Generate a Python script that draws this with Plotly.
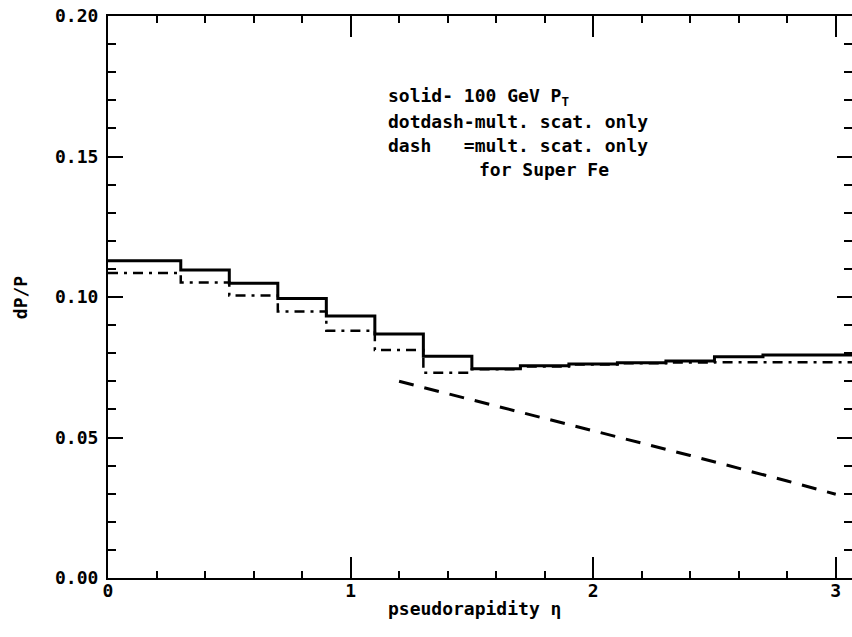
import plotly.graph_objects as go

# Step edges (pseudorapidity) and levels
solid_edges = [0.0, 0.3, 0.5, 0.7, 0.9, 1.1, 1.3, 1.5, 1.7, 1.9, 2.1, 2.3, 2.5, 2.7, 3.1]
solid_vals = [0.1129, 0.1096, 0.1049, 0.0995, 0.0932, 0.0868, 0.0789, 0.0745,
              0.0755, 0.0762, 0.0766, 0.0772, 0.0787, 0.0794, 0.0794]

dotdash_edges = [0.0, 0.3, 0.5, 0.7, 0.9, 1.1, 1.3, 1.5, 1.7, 1.9, 2.1, 2.3, 2.5, 3.1]
dotdash_vals = [0.1085, 0.1052, 0.1005, 0.0948, 0.0880, 0.0811, 0.0730, 0.0743,
                0.0753, 0.0760, 0.0764, 0.0767, 0.0768, 0.0768]

dash_eta = [1.2, 1.6, 2.0, 2.4, 2.8, 3.0]
dash_vals = [0.0700, 0.0612, 0.0524, 0.0436, 0.0345, 0.0298]

x_tickvals = [0, 1, 2, 3]
x_ticktext = ["0", "1", "2", "3"]
y_tickvals = [0, 0.05, 0.10, 0.15, 0.20]
y_ticktext = ["0.00", "0.05", "0.10", "0.15", "0.20"]

legend_lines = ["solid-\u00a0100\u00a0GeV\u00a0P<sub>T</sub>",
                "dotdash-mult.\u00a0scat.\u00a0only",
                "dash\u00a0\u00a0\u00a0=mult.\u00a0scat.\u00a0only",
                "for\u00a0Super\u00a0Fe"]
x_title = "pseudorapidity \u03b7"
y_title = "dP/P"

FONT = "DejaVu Sans Mono"
axis_font = dict(family=FONT, size=18, color="black", weight="bold")

fig = go.Figure()
fig.add_trace(go.Scatter(x=solid_edges, y=solid_vals, mode="lines", line_shape="hv",
                         line=dict(color="black", width=3), showlegend=False))
fig.add_trace(go.Scatter(x=dotdash_edges, y=dotdash_vals, mode="lines", line_shape="hv",
                         line=dict(color="black", width=2.5, dash="10px,6px,3px,6px"),
                         showlegend=False))
fig.add_trace(go.Scatter(x=dash_eta, y=dash_vals, mode="lines",
                         line=dict(color="black", width=3, dash="15px,11px"),
                         showlegend=False))
# invisible trace to activate right-side axis ticks
fig.add_trace(go.Scatter(x=[0], y=[0], yaxis="y2", mode="markers",
                         marker=dict(opacity=0), showlegend=False, hoverinfo="skip"))

fig.update_layout(
    width=852, height=637,
    margin=dict(l=108, r=0, t=16, b=59),
    paper_bgcolor="white", plot_bgcolor="white",
    font=axis_font,
    xaxis=dict(range=[0, 3.067], showgrid=False, zeroline=False,
               showline=True, linecolor="black", linewidth=2, mirror="ticks",
               ticks="inside", ticklen=21, tickwidth=2, tickcolor="black",
               tickvals=x_tickvals, ticktext=x_ticktext,
               minor=dict(dtick=0.2, ticks="inside", ticklen=7, tickwidth=1.5,
                          tickcolor="black", showgrid=False),
               ticklabelstandoff=-5,
               tickfont=axis_font),
    yaxis=dict(range=[0, 0.2], showgrid=False, zeroline=False,
               showline=True, linecolor="black", linewidth=2,
               ticks="inside", ticklen=15, tickwidth=2, tickcolor="black",
               tickvals=y_tickvals, ticktext=y_ticktext,
               minor=dict(dtick=0.01, ticks="inside", ticklen=8, tickwidth=1.5,
                          tickcolor="black", showgrid=False),
               ticklabelstandoff=4,
               tickfont=axis_font),
    yaxis2=dict(range=[0, 0.2], overlaying="y", side="right", showgrid=False,
                zeroline=False, showline=False, showticklabels=False,
                ticks="inside", ticklen=15, tickwidth=2, tickcolor="black",
                tickvals=y_tickvals,
                minor=dict(dtick=0.01, ticks="inside", ticklen=8, tickwidth=1.5,
                           tickcolor="black", showgrid=False)),
)

# axis titles
fig.add_annotation(x=0.493, y=-0.054, xref="paper", yref="paper", text=x_title,
                   showarrow=False, xanchor="center", yanchor="middle", font=axis_font)
fig.add_annotation(x=-0.118, y=0.5, xref="paper", yref="paper", text=y_title,
                   showarrow=False, xanchor="center", yanchor="middle",
                   textangle=-90, font=axis_font)

legend_x = [1.145, 1.145, 1.145, 1.52]
legend_y = [0.1710, 0.1625, 0.1540, 0.1455]
for txt, lx, ly in zip(legend_lines, legend_x, legend_y):
    fig.add_annotation(x=lx, y=ly, xref="x", yref="y", text=txt, showarrow=False,
                       xanchor="left", yanchor="middle", font=axis_font)

fig.write_html("out.html")
